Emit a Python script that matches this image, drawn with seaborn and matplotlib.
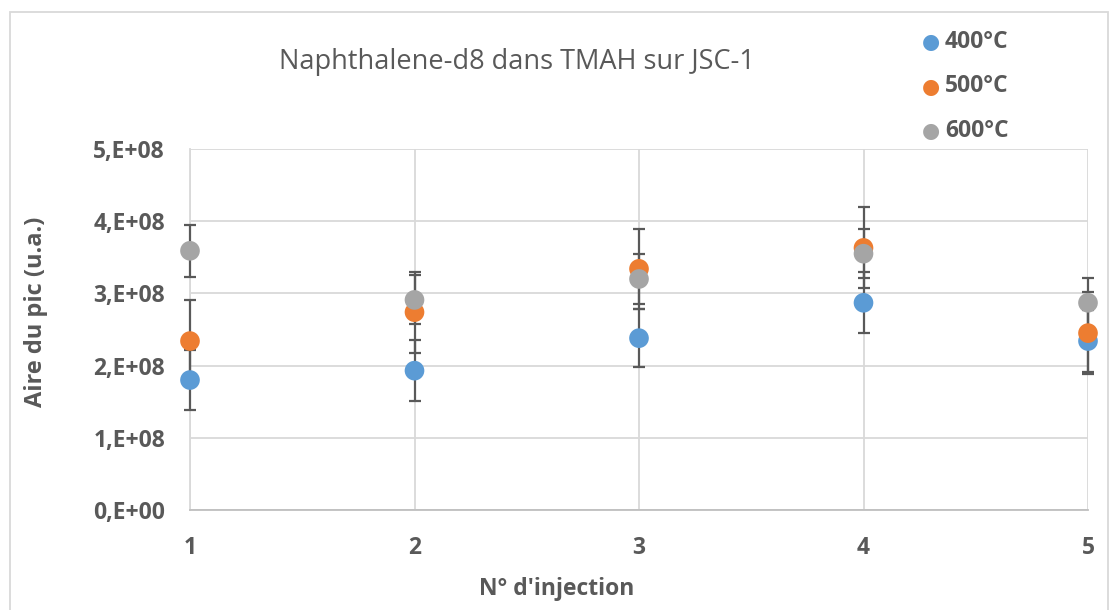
import numpy as np
import pandas as pd
import matplotlib
matplotlib.use("Agg")
import matplotlib.pyplot as plt
import seaborn as sns
from matplotlib.patches import Rectangle

# Data
injections = [1, 2, 3, 4, 5]
series_names = ["400°C", "500°C", "600°C"]
aire_400 = [1.80e8, 1.93e8, 2.38e8, 2.87e8, 2.34e8]
aire_500 = [2.34e8, 2.74e8, 3.34e8, 3.63e8, 2.45e8]
aire_600 = [3.59e8, 2.91e8, 3.20e8, 3.55e8, 2.87e8]
err_400 = [0.41e8, 0.42e8, 0.40e8, 0.42e8, 0.43e8]
err_500 = [0.57e8, 0.56e8, 0.55e8, 0.56e8, 0.57e8]
err_600 = [0.36e8, 0.34e8, 0.35e8, 0.34e8, 0.34e8]
y_ticks = [0, 1e8, 2e8, 3e8, 4e8, 5e8]
y_tick_labels = ["0,E+00", "1,E+08", "2,E+08", "3,E+08", "4,E+08", "5,E+08"]

colors = ["#5B9BD5", "#ED7D31", "#A5A5A5"]

df = pd.DataFrame({
    "injection": injections * 3,
    "aire": aire_400 + aire_500 + aire_600,
    "err": err_400 + err_500 + err_600,
    "serie": [s for s in series_names for _ in injections],
})

sns.set_style("white")
plt.rcParams["font.family"] = ["Open Sans", "DejaVu Sans"]

fig = plt.figure(figsize=(11.18, 6.10), dpi=100)
ax = fig.add_axes([190 / 1118, 100 / 610, 898 / 1118, 361 / 610])

# Error bars first so points sit on top (but above the spines)
for name in series_names:
    sub = df[df["serie"] == name]
    eb = ax.errorbar(sub["injection"], sub["aire"], yerr=sub["err"], fmt="none",
                     ecolor="#595959", elinewidth=1.6, capsize=4.5, capthick=1.6,
                     zorder=2.7)
    for art in eb.lines[1] + eb.lines[2]:
        art.set_clip_on(False)

sns.scatterplot(data=df, x="injection", y="aire", hue="serie",
                palette=colors, s=200, edgecolor="none", ax=ax,
                zorder=3, clip_on=False, legend=False)

ax.set_xlim(1, 5)
ax.set_ylim(0, 5e8)
ax.set_xticks(injections)
ax.set_yticks(y_ticks)
ax.set_yticklabels(y_tick_labels)
ax.grid(True, color="#D9D9D9", linewidth=1.3)
ax.set_axisbelow(True)
for side in ["top", "right"]:
    ax.spines[side].set_visible(False)
ax.spines["left"].set_color("#D9D9D9")
ax.spines["left"].set_linewidth(1.3)
ax.spines["bottom"].set_color("#BFBFBF")
ax.spines["bottom"].set_linewidth(1.3)
ax.tick_params(axis="both", length=0, labelsize=16.5, labelcolor="#595959")
ax.tick_params(axis="x", pad=19)
ax.tick_params(axis="y", pad=18)
for lbl in ax.get_xticklabels() + ax.get_yticklabels():
    lbl.set_fontweight("bold")
ax.set_xlabel("")
ax.set_ylabel("")

# Titles and axis labels
fig.text(517 / 1118, 1 - 62 / 610, "Naphthalene-d8 dans TMAH sur JSC-1",
         ha="center", va="center", fontsize=19.5, color="#595959")
fig.text(557 / 1118, 1 - 589 / 610, "N° d'injection", ha="center", va="center",
         fontsize=16.5, fontweight="bold", color="#595959")
fig.text(36 / 1118, 1 - 312 / 610, "Aire du pic (u.a.)", ha="center", va="center",
         rotation=90, fontsize=17, fontweight="bold", color="#595959")

# Legend
for i, name in enumerate(series_names):
    yy = 1 - (42 + i * 44.5) / 610
    fig.text(931 / 1118, yy, "●", ha="center", va="center", fontsize=15,
             color=colors[i], family=["DejaVu Sans"])
    fig.text(945 / 1118, yy, name, ha="left", va="center", fontsize=16.5,
             fontweight="bold", color="#595959")

# Chart frame
fig.patches.append(Rectangle((10 / 1118, -0.01), 1098 / 1118, 1 - 12 / 610 + 0.01,
                             transform=fig.transFigure, fill=False,
                             edgecolor="#D9D9D9", linewidth=1.3))

fig.savefig("out.png", dpi=100)
